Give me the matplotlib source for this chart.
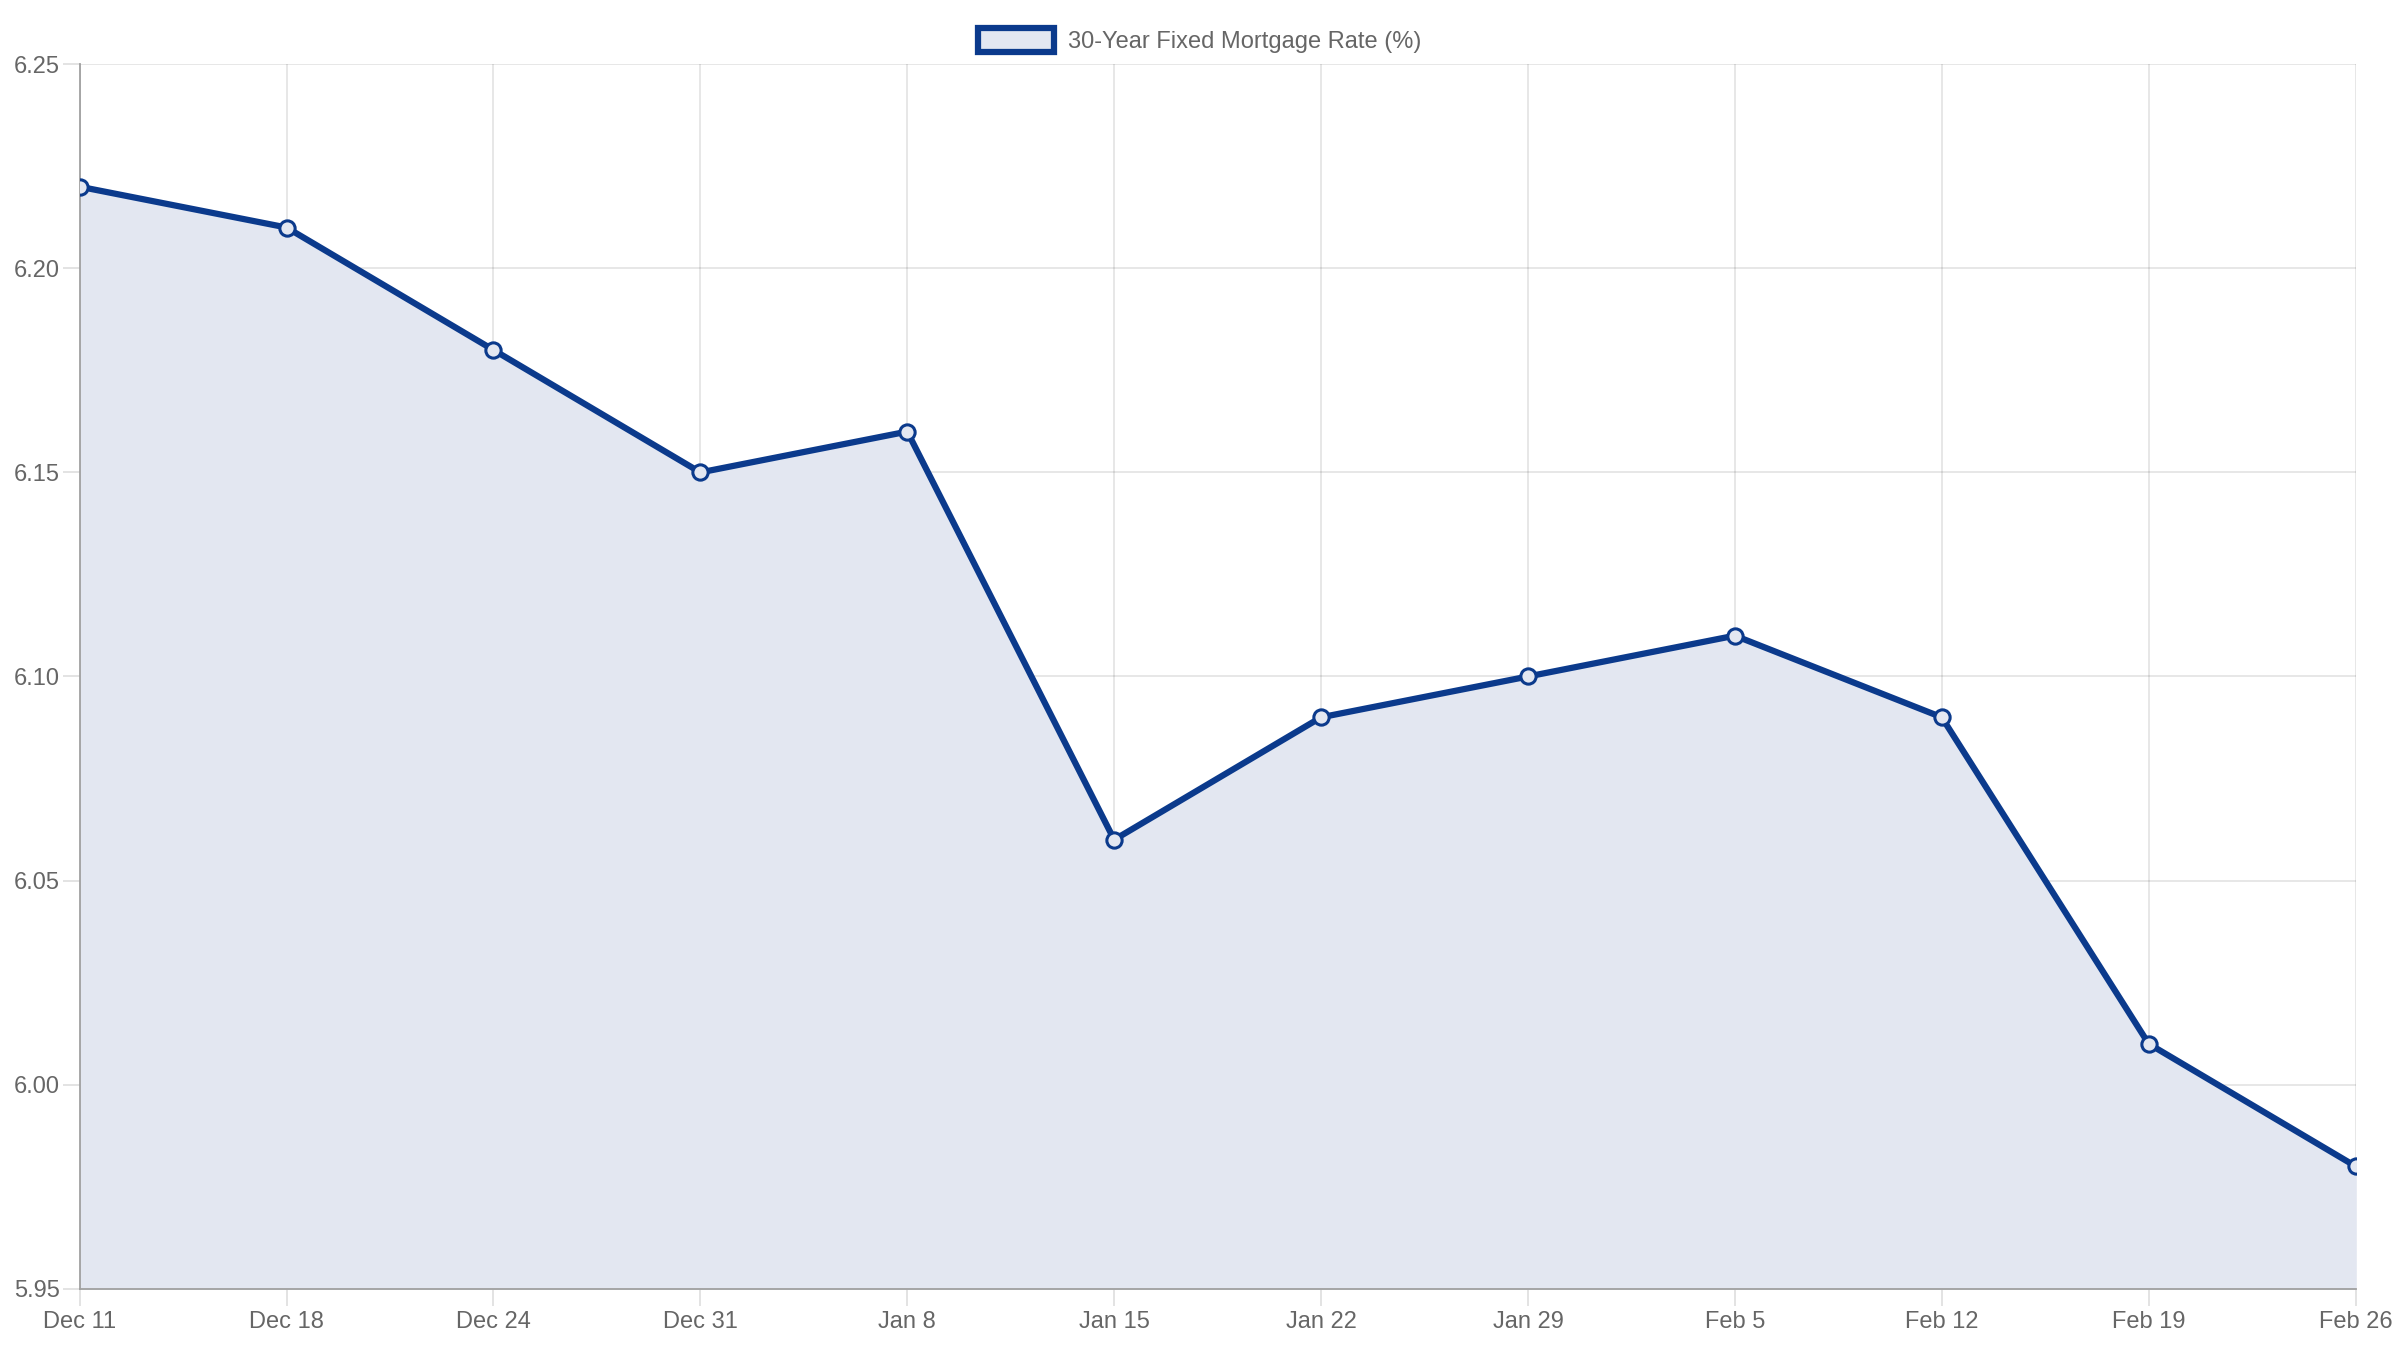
import matplotlib.pyplot as plt
from matplotlib.patches import Patch

dates = ["Dec 11", "Dec 18", "Dec 24", "Dec 31", "Jan 8", "Jan 15",
         "Jan 22", "Jan 29", "Feb 5", "Feb 12", "Feb 19", "Feb 26"]
rates = [6.22, 6.21, 6.18, 6.15, 6.16, 6.06, 6.09, 6.10, 6.11, 6.09, 6.01, 5.98]
yticks = [5.95, 6.00, 6.05, 6.10, 6.15, 6.20, 6.25]

plt.rcParams['font.family'] = ['Liberation Sans', 'DejaVu Sans']
line_col = '#0b3a8c'
fill_col = '#e3e7f1'

fig = plt.figure(figsize=(24, 13.5), dpi=100)
ax = fig.add_axes([0.0332, 0.0454, 0.9483, 0.9070])
x = list(range(len(dates)))
ax.fill_between(x, rates, 5.95, color=fill_col, zorder=1)
ax.plot(x, rates, color=line_col, lw=4.5, marker='o', ms=11,
        mfc=fill_col, mec=line_col, mew=2.2, zorder=3)

ax.set_xlim(0, len(dates) - 1)
ax.set_ylim(5.95, 6.25)
ax.set_xticks(x)
ax.set_xticklabels(dates)
ax.set_yticks(yticks)
ax.set_yticklabels([f"{v:.2f}" for v in yticks])
ax.grid(True, color='#000000', alpha=0.1, lw=1.3, zorder=0)
ax.set_axisbelow(True)
for s in ['top', 'right']:
    ax.spines[s].set_visible(False)
for s in ['left', 'bottom']:
    ax.spines[s].set_color('#a0a0a0')
    ax.spines[s].set_linewidth(1.3)
ax.tick_params(axis='both', colors='#e0e0e0', labelcolor='#666666',
               labelsize=17, length=12, width=1.3)
ax.tick_params(axis='y', pad=2)
ax.tick_params(axis='x', pad=4)

handle = Patch(facecolor=fill_col, edgecolor=line_col, linewidth=4.5,
               label='30-Year Fixed Mortgage Rate (%)')
fig.legend(handles=[handle], loc='upper center', bbox_to_anchor=(0.5, 0.995),
           frameon=False, fontsize=17, labelcolor='#666666',
           handlelength=3.2, handleheight=1.2, handletextpad=0.6)

fig.savefig('out.png', dpi=100, facecolor='white')
